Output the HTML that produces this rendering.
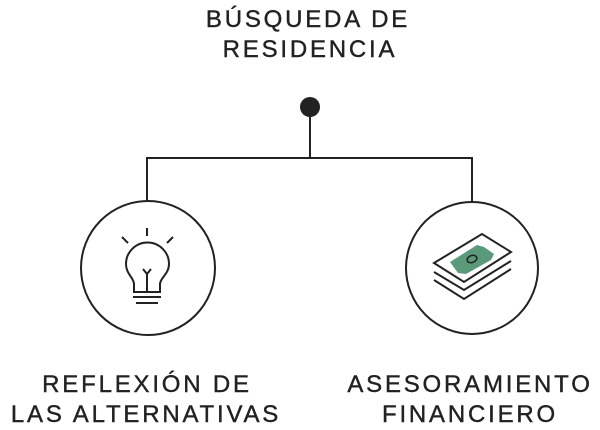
<!DOCTYPE html>
<html><head><style>
body{margin:0;background:#fff;width:600px;height:430px;overflow:hidden}
svg{display:block}
text{font-family:"Liberation Sans",sans-serif;font-size:24px;fill:#222;stroke:#222;stroke-width:0.4;letter-spacing:2.8px;text-anchor:middle}
</style></head><body>
<svg width="600" height="430" viewBox="0 0 600 430">
<text x="308" y="27">BÚSQUEDA DE</text>
<text x="310" y="57">RESIDENCIA</text>
<circle cx="310" cy="107" r="10" fill="#222"/>
<path d="M310 107V158M147 201V158H472V201" stroke="#222" stroke-width="2" fill="none"/>
<circle cx="148" cy="268" r="67" fill="none" stroke="#222" stroke-width="2"/>
<circle cx="472" cy="268" r="66" fill="none" stroke="#222" stroke-width="2"/>
<g stroke="#222" stroke-width="2" fill="none">
<path d="M122 237L128 243M147 228V236M167 243L173 237"/>
<path d="M134 292V284C134 278 126 274 126 264A21.5 21.5 0 0 1 169 264C169 274 160 278 160 284V292Z"/>
<path d="M147 292V274M143 269L147 274L151 269"/>
<path d="M133 297H161M136 303H158"/>
<path d="M434 263L482 234L511 252L464 282Z"/>
<path d="M434 272L464 290L511 261M434 280L464 299L511 269"/>
</g>
<path d="M450 262L477 245L484 247L494 254L491 260L466 274L458 273Z" fill="#5a9a7a"/>
<ellipse cx="472" cy="259" rx="5" ry="3.5" fill="none" stroke="#222" stroke-width="1.5" transform="rotate(-20 472 259)"/>
<text x="147" y="392">REFLEXIÓN DE</text>
<text x="146" y="422">LAS ALTERNATIVAS</text>
<text x="470" y="392">ASESORAMIENTO</text>
<text x="470" y="422">FINANCIERO</text>
</svg>
</body></html>
